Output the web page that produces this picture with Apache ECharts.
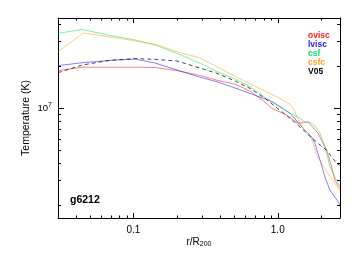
<!DOCTYPE html>
<html>
<head>
<meta charset="utf-8">
<script src="https://cdn.jsdelivr.net/npm/echarts@6/dist/echarts.min.js"></script>
<style>
html,body{margin:0;padding:0;background:#fff;}
#chart{width:357px;height:255px;}
</style>
</head>
<body>
<div id="chart"></div>
<script>
// ---- data: [r/R200, T (K)] ----
const ovisc = [[0.030,1.85e7],[0.044,1.96e7],[0.069,1.96e7],[0.103,1.96e7],[0.141,1.95e7],[0.201,1.85e7],[0.290,1.71e7],[0.380,1.58e7],[0.506,1.48e7],[0.643,1.32e7],[0.817,1.10e7],[0.913,0.99e7],[1.124,9.0e6],[1.382,7.76e6],[1.621,7.93e6],[1.901,6.58e6],[2.184,4.96e6],[2.366,3.76e6],[2.493,3.02e6],[2.70,2.64e6]];
const lvisc = [[0.030,2.01e7],[0.044,2.11e7],[0.069,2.19e7],[0.103,2.24e7],[0.141,2.10e7],[0.201,1.87e7],[0.290,1.66e7],[0.380,1.54e7],[0.506,1.39e7],[0.643,1.27e7],[0.817,1.16e7],[0.928,1.10e7],[1.217,9.16e6],[1.473,7.29e6],[1.720,6.18e6],[1.812,5.55e6],[1.963,4.21e6],[2.125,3.19e6],[2.302,2.56e6],[2.629,2.11e6],[2.70,2.00e6]];
const csf = [[0.030,3.43e7],[0.044,3.66e7],[0.069,3.31e7],[0.103,3.07e7],[0.141,2.83e7],[0.201,2.46e7],[0.290,2.09e7],[0.380,1.82e7],[0.506,1.61e7],[0.643,1.42e7],[0.817,1.19e7],[1.037,1.01e7],[1.217,9.16e6],[1.427,8.43e6],[1.545,7.93e6],[1.674,7.89e6],[1.812,7.38e6],[1.963,6.58e6],[2.125,5.24e6],[2.302,3.80e6],[2.493,3.17e6],[2.70,2.74e6]];
const csfc = [[0.030,2.53e7],[0.045,3.45e7],[0.069,3.23e7],[0.103,3.02e7],[0.141,2.87e7],[0.201,2.53e7],[0.290,2.28e7],[0.380,1.97e7],[0.506,1.69e7],[0.643,1.49e7],[0.817,1.32e7],[1.037,1.17e7],[1.217,1.06e7],[1.301,9.6e6],[1.409,7.93e6],[1.502,7.14e6],[1.674,6.36e6],[1.756,5.57e6],[1.863,4.57e6],[2.017,4.00e6],[2.230,3.39e6],[2.493,2.87e6],[2.70,2.52e6]];
const v05 = [[0.030,1.79e7],[0.044,2.03e7],[0.069,2.20e7],[0.103,2.26e7],[0.141,2.23e7],[0.201,2.17e7],[0.290,1.93e7],[0.380,1.77e7],[0.506,1.56e7],[0.643,1.38e7],[0.817,1.17e7],[1.037,9.6e6],[1.217,8.43e6],[1.427,7.29e6],[1.674,6.25e6],[1.901,5.57e6],[2.184,4.96e6],[2.563,3.98e6],[2.70,3.87e6]];

const seriesNames = ['ovisc','lvisc','csf','csfc','V05'];
const seriesColors = ['#ff1a1a','#1a1aff','#10e060','#ffa020','#000000'];

// ---- axes ----
const xRange = [0.030, 2.70];
const yRange = [1.62e6, 4.42e7];
const xMajorTicks = [0.1, 1.0];
const xTickLabels = ['0.1', '1.0'];
const xMinorTicks = [0.04,0.05,0.06,0.07,0.08,0.09,0.2,0.3,0.4,0.5,0.6,0.7,0.8,0.9,2.0];
const yMajorTicks = [1e7];
const yTickLabels = ['10^7'];
const yMinorTicks = [2e6,3e6,4e6,5e6,6e6,7e6,8e6,9e6,2e7,3e7,4e7];
const plotLabel = 'g6212';

const FONT = '"Liberation Sans", Arial, sans-serif';
const lg = v => Math.log10(v);

function findLabel(ticks, labels, v) {
  for (let i = 0; i < ticks.length; i++) if (Math.abs(lg(ticks[i]) - v) < 1e-6) return labels[i];
  return '';
}
function supLabel(s) {
  const p = s.split('^');
  return p.length > 1 ? '{b|' + p[0] + '}{s|' + p[1] + '}' : '{b|' + s + '}';
}

function mkAxis(dim, position, major, withLabels) {
  const range = dim === 'x' ? xRange : yRange;
  const majT = dim === 'x' ? xMajorTicks : yMajorTicks;
  const minT = dim === 'x' ? xMinorTicks : yMinorTicks;
  const ax = {
    type: 'value',
    position: position,
    min: lg(range[0]),
    max: lg(range[1]),
    axisLine: { show: major, onZero: false, lineStyle: { color: '#000', width: 1 } },
    axisTick: {
      show: true, inside: true,
      length: major ? (dim === 'x' ? 5 : 6) : (dim === 'x' ? 2.5 : 3),
      customValues: (major ? majT : minT).map(lg),
      lineStyle: { color: '#000', width: 1 }
    },
    axisLabel: { show: false },
    splitLine: { show: false },
    silent: true
  };
  if (withLabels) {
    if (dim === 'x') {
      ax.axisLabel = {
        show: true, customValues: majT.map(lg), margin: 7,
        color: '#000', fontSize: 10, fontFamily: FONT,
        formatter: v => findLabel(xMajorTicks, xTickLabels, v)
      };
      ax.name = 'r/R{sub|200}';
      ax.nameLocation = 'middle';
      ax.nameGap = 19;
      ax.nameMoveOverlap = false;
      ax.nameTextStyle = { color: '#000', fontSize: 10, fontFamily: FONT, verticalAlign: 'top',
        rich: { sub: { fontSize: 7, fontFamily: FONT, color: '#000', padding: [4, 0, 0, 0] } } };
    } else {
      ax.axisLabel = {
        show: true, customValues: majT.map(lg), margin: 6,
        formatter: v => supLabel(findLabel(yMajorTicks, yTickLabels, v)),
        rich: {
          b: { fontSize: 9.5, fontFamily: FONT, color: '#000' },
          s: { fontSize: 7, fontFamily: FONT, color: '#000', padding: [0, 0, 6, 0] }
        }
      };
      ax.name = 'Temperature (K)';
      ax.nameLocation = 'middle';
      ax.nameGap = 26;
      ax.nameMoveOverlap = false;
      ax.nameTextStyle = { color: '#000', fontSize: 10.5, fontFamily: FONT };
    }
  }
  return ax;
}

const allData = [ovisc, lvisc, csf, csfc, v05];
const series = allData.map((d, i) => ({
  name: seriesNames[i],
  type: 'line',
  xAxisIndex: 0, yAxisIndex: 0,
  data: d.map(p => [lg(p[0]), lg(p[1])]),
  showSymbol: false, symbol: 'none',
  lineStyle: { width: 1, color: seriesColors[i], opacity: i === 4 ? 0.7 : 0.55, type: i === 4 ? [4, 3] : 'solid' },
  itemStyle: { color: seriesColors[i] },
  clip: true,
  silent: true
}));

const chart = echarts.init(document.getElementById('chart'), null, { renderer: 'canvas' });
chart.setOption({
  animation: false,
  backgroundColor: '#fff',
  grid: { left: 58, right: 17, top: 18, bottom: 37, containLabel: false },
  xAxis: [mkAxis('x','bottom',true,true), mkAxis('x','bottom',false,false), mkAxis('x','top',true,false), mkAxis('x','top',false,false)],
  yAxis: [mkAxis('y','left',true,true), mkAxis('y','left',false,false), mkAxis('y','right',true,false), mkAxis('y','right',false,false)],
  legend: {
    orient: 'vertical', left: 298, top: 26,
    icon: 'none', itemWidth: 0, itemHeight: 8.8, itemGap: 0,
    selectedMode: false,
    textStyle: { fontSize: 8.5, fontWeight: 'bold', fontFamily: FONT },
    data: seriesNames.map((n, i) => ({ name: n, textStyle: { color: seriesColors[i] } }))
  },
  title: {
    text: plotLabel, left: 70, top: 195, padding: 0,
    textStyle: { fontSize: 10.5, fontWeight: 'bold', fontFamily: FONT, color: '#000' }
  },
  series: series
});
</script>
</body>
</html>
